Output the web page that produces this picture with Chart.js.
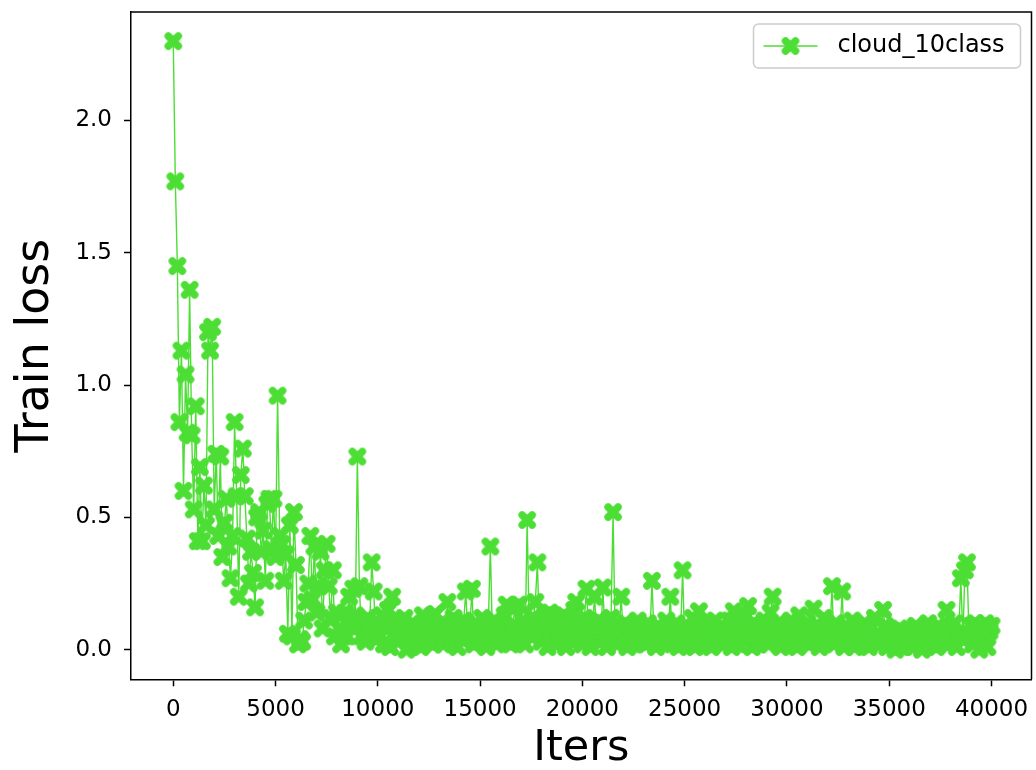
<!DOCTYPE html>
<html lang="en">
<head>
  <meta charset="UTF-8">
  <title>Train loss</title>
  <script src="https://cdn.jsdelivr.net/npm/chart.js@4.4.1/dist/chart.umd.min.js"></script>
  <style>
    html, body {
      margin: 0;
      padding: 0;
      background: #fff;
    }
    #wrap {
      width: 1036px;
      height: 770px;
    }
  </style>
</head>
<body>
  <div id="wrap"><canvas id="chart" width="1036" height="770"></canvas></div>
  <script>
    // train loss logged every 100 iterations, one row per 1000 iters
    const seriesName = 'cloud_10class';
    const logEvery = 100;
    const lossRows = [
      [2.30, 1.77, 1.45, 0.86, 1.13, 0.60, 1.04, 0.82, 1.36, 0.81],
      [0.53, 0.92, 0.41, 0.69, 0.41, 0.62, 0.47, 1.20, 1.13, 1.22],
      [0.53, 0.74, 0.43, 0.73, 0.35, 0.48, 0.57, 0.39, 0.27, 0.43],
      [0.86, 0.58, 0.20, 0.66, 0.76, 0.58, 0.42, 0.25, 0.37, 0.29],
      [0.16, 0.50, 0.52, 0.37, 0.45, 0.26, 0.55, 0.57, 0.38, 0.57],
      [0.35, 0.96, 0.43, 0.40, 0.26, 0.36, 0.06, 0.47, 0.05, 0.52],
      [0.32, 0.02, 0.04, 0.03, 0.11, 0.18, 0.25, 0.43, 0.19, 0.39],
      [0.14, 0.24, 0.37, 0.08, 0.30, 0.40, 0.24, 0.12, 0.30, 0.05],
      [0.14, 0.08, 0.02, 0.05, 0.14, 0.05, 0.20, 0.09, 0.23, 0.13],
      [0.73, 0.24, 0.05, 0.10, 0.03, 0.12, 0.08, 0.33, 0.22, 0.04],
      [0.10, 0.05, 0.13, 0.02, 0.08, 0.15, 0.01, 0.20, 0.06, 0.11],
      [0.03, 0.09, 0.05, 0.12, 0.00, 0.07, 0.04, 0.10, 0.02, 0.06],
      [0.08, 0.01, 0.13, 0.05, 0.09, 0.03, 0.11, 0.02, 0.135, 0.04],
      [0.07, 0.10, 0.02, 0.05, 0.18, 0.08, 0.03, 0.12, 0.06, 0.01],
      [0.09, 0.04, 0.11, 0.22, 0.05, 0.08, 0.23, 0.02, 0.10, 0.06],
      [0.03, 0.12, 0.07, 0.01, 0.09, 0.39, 0.05, 0.11, 0.02, 0.08],
      [0.04, 0.10, 0.13, 0.17, 0.06, 0.02, 0.09, 0.16, 0.03, 0.17],
      [0.07, 0.11, 0.02, 0.49, 0.08, 0.05, 0.12, 0.18, 0.33, 0.06],
      [0.03, 0.09, 0.13, 0.01, 0.14, 0.06, 0.10, 0.02, 0.12, 0.05],
      [0.08, 0.13, 0.01, 0.07, 0.10, 0.03, 0.15, 0.18, 0.04, 0.09],
      [0.02, 0.12, 0.23, 0.06, 0.01, 0.10, 0.20, 0.04, 0.11, 0.03],
      [0.235, 0.07, 0.01, 0.09, 0.12, 0.52, 0.05, 0.02, 0.08, 0.20],
      [0.04, 0.10, 0.01, 0.06, 0.09, 0.02, 0.07, 0.11, 0.03, 0.05],
      [0.08, 0.02, 0.10, 0.04, 0.26, 0.06, 0.01, 0.09, 0.03, 0.07],
      [0.05, 0.11, 0.08, 0.20, 0.02, 0.04, 0.10, 0.01, 0.06, 0.30],
      [0.03, 0.09, 0.02, 0.07, 0.12, 0.01, 0.05, 0.145, 0.04, 0.08],
      [0.02, 0.10, 0.05, 0.01, 0.08, 0.11, 0.03, 0.06, 0.09, 0.02],
      [0.07, 0.04, 0.11, 0.01, 0.145, 0.06, 0.02, 0.09, 0.05, 0.12],
      [0.03, 0.165, 0.08, 0.01, 0.10, 0.05, 0.02, 0.09, 0.04, 0.11],
      [0.06, 0.02, 0.14, 0.20, 0.08, 0.05, 0.10, 0.01, 0.07, 0.03],
      [0.09, 0.04, 0.11, 0.02, 0.06, 0.01, 0.13, 0.05, 0.08, 0.03],
      [0.10, 0.02, 0.07, 0.155, 0.04, 0.09, 0.01, 0.06, 0.12, 0.03],
      [0.08, 0.05, 0.24, 0.02, 0.10, 0.04, 0.07, 0.22, 0.01, 0.09],
      [0.03, 0.06, 0.11, 0.01, 0.09, 0.04, 0.07, 0.02, 0.10, 0.05],
      [0.01, 0.08, 0.03, 0.12, 0.06, 0.02, 0.04, 0.15, 0.09, 0.01],
      [0.05, 0.02, 0.07, 0.00, 0.04, 0.08, 0.01, 0.06, 0.03, 0.05],
      [0.02, 0.07, 0.01, 0.09, 0.04, 0.06, 0.00, 0.08, 0.03, 0.10],
      [0.04, 0.02, 0.07, 0.01, 0.09, 0.05, 0.03, 0.06, 0.15, 0.02],
      [0.08, 0.03, 0.10, 0.01, 0.06, 0.27, 0.04, 0.30, 0.33, 0.05],
      [0.09, 0.02, 0.10, 0.06, 0.00, 0.08, 0.03, 0.10, 0.01, 0.07],
      [0.09]
    ];
    const xTicks = [0, 5000, 10000, 15000, 20000, 25000, 30000, 35000, 40000];
    const yTicks = [0.0, 0.5, 1.0, 1.5, 2.0];

    const green = 'rgb(76, 222, 52)';
    const font = "'DejaVu Sans', 'Liberation Sans', sans-serif";

    const losses = lossRows.flat();
    const points = losses.map((v, i) => ({ x: i * logEvery, y: v }));

    // filled "X" marker like matplotlib's
    function makeMarker(color) {
      const c = document.createElement('canvas');
      c.width = 20;
      c.height = 20;
      const g = c.getContext('2d');
      g.strokeStyle = color;
      g.lineWidth = 7.5;
      g.lineCap = 'round';
      g.beginPath();
      g.moveTo(5, 5); g.lineTo(15, 15);
      g.moveTo(15, 5); g.lineTo(5, 15);
      g.stroke();
      return c;
    }
    const marker = makeMarker(green);

    // top and right spines
    const frame = {
      id: 'frame',
      afterDatasetsDraw(chart) {
        const { ctx, chartArea: a } = chart;
        ctx.save();
        ctx.strokeStyle = '#000';
        ctx.lineWidth = 1.5;
        ctx.beginPath();
        ctx.moveTo(a.left, a.top);
        ctx.lineTo(a.right, a.top);
        ctx.lineTo(a.right, a.bottom);
        ctx.stroke();
        ctx.restore();
      }
    };

    // matplotlib style legend box in the upper right
    const legendBox = {
      id: 'legendBox',
      afterDraw(chart) {
        const { ctx, chartArea: a } = chart;
        const w = 267, h = 44;
        const x = a.right - 11 - w, y = a.top + 12;
        ctx.save();
        ctx.beginPath();
        ctx.roundRect(x, y, w, h, 5);
        ctx.fillStyle = 'rgba(255,255,255,0.8)';
        ctx.fill();
        ctx.strokeStyle = '#cccccc';
        ctx.lineWidth = 1.5;
        ctx.stroke();
        const cy = y + h / 2;
        ctx.strokeStyle = green;
        ctx.lineWidth = 1.4;
        ctx.beginPath();
        ctx.moveTo(x + 10, cy);
        ctx.lineTo(x + 64, cy);
        ctx.stroke();
        ctx.drawImage(marker, x + 37 - 10, cy - 10);
        ctx.fillStyle = '#000';
        ctx.font = '24px ' + font;
        ctx.textBaseline = 'middle';
        ctx.textAlign = 'left';
        ctx.fillText(seriesName, x + 84, cy);
        ctx.restore();
      }
    };

    // keep the plot box where the reference has it
    function noPad(s) {
      s.paddingTop = 0;
      s.paddingBottom = 0;
      s.paddingLeft = 0;
      s.paddingRight = 0;
    }

    Chart.defaults.font.family = font;
    Chart.defaults.color = '#000';

    new Chart(document.getElementById('chart').getContext('2d'), {
      type: 'line',
      data: {
        datasets: [{
          label: seriesName,
          data: points,
          borderColor: green,
          backgroundColor: green,
          borderWidth: 1.4,
          pointStyle: marker,
          pointRadius: 8,
          tension: 0,
          fill: false
        }]
      },
      options: {
        responsive: false,
        animation: false,
        events: [],
        layout: {
          autoPadding: false,
          padding: { top: 12, right: 4.5, left: 0, bottom: 0 }
        },
        plugins: {
          legend: { display: false },
          tooltip: { enabled: false }
        },
        scales: {
          x: {
            type: 'linear',
            min: -2066,
            max: 41955,
            afterBuildTicks: s => { s.ticks = xTicks.map(v => ({ value: v })); },
            afterFit: s => { s.height = 90.7; noPad(s); },
            ticks: {
              font: { size: 23 },
              padding: 10,
              maxRotation: 0,
              autoSkip: false,
              callback: v => String(v)
            },
            grid: {
              drawOnChartArea: false,
              tickLength: 7,
              tickWidth: 1.5,
              color: '#000'
            },
            border: { color: '#000', width: 1.5 },
            title: {
              display: true,
              text: 'Iters',
              font: { size: 43, lineHeight: 1 },
              padding: { top: 0, bottom: 0 }
            }
          },
          y: {
            type: 'linear',
            min: -0.112,
            max: 2.41,
            afterBuildTicks: s => { s.ticks = yTicks.map(v => ({ value: v })); },
            afterFit: s => { s.width = 131; noPad(s); },
            ticks: {
              font: { size: 23 },
              padding: 12,
              autoSkip: false,
              callback: v => v.toFixed(1)
            },
            grid: {
              drawOnChartArea: false,
              tickLength: 7,
              tickWidth: 1.5,
              color: '#000'
            },
            border: { color: '#000', width: 1.5 },
            title: {
              display: true,
              text: 'Train loss',
              font: { size: 46, lineHeight: 1 },
              padding: { top: 13, bottom: 0 }
            }
          }
        }
      },
      plugins: [frame, legendBox]
    });
  </script>
</body>
</html>
